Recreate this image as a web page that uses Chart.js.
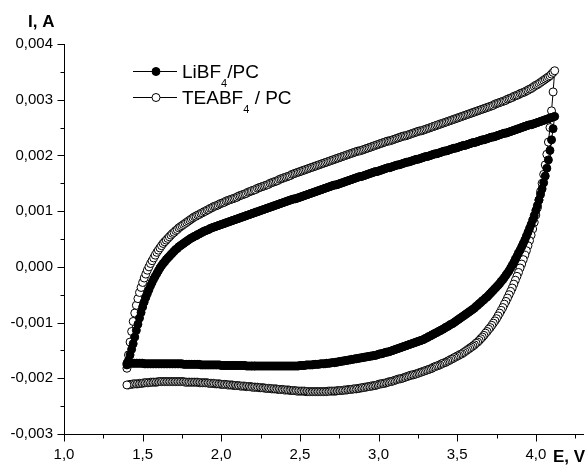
<!DOCTYPE html>
<html>
<head>
<meta charset="utf-8">
<script src="https://cdn.jsdelivr.net/npm/chart.js@4/dist/chart.umd.min.js"></script>
<style>
html, body { margin: 0; padding: 0; background: #fff; }
#wrap { width: 588px; height: 466px; position: relative; }
</style>
</head>
<body>
<div id="wrap"><canvas id="cv"></canvas></div>
<script>
// Cyclic voltammograms, E in V, I in A -----------------------------------------------------------
const ePotentialFwd = [
  1.40,1.41,1.42,1.43,1.44,1.45,1.46,1.47,1.48,1.49,
  1.50,1.51,1.52,1.53,1.54,1.55,1.56,1.57,1.58,1.59,
  1.60,1.61,1.62,1.63,1.64,1.65,1.66,1.67,1.68,1.69,
  1.70,1.71,1.72,1.73,1.74,1.75,1.76,1.77,1.78,1.79,
  1.80,1.81,1.82,1.83,1.84,1.85,1.86,1.87,1.88,1.89,
  1.90,1.91,1.92,1.93,1.94,1.95,1.96,1.97,1.98,1.99,
  2.00,2.01,2.02,2.03,2.04,2.05,2.06,2.07,2.08,2.09,
  2.10,2.11,2.12,2.13,2.14,2.15,2.16,2.17,2.18,2.19,
  2.20,2.21,2.22,2.23,2.24,2.25,2.26,2.27,2.28,2.29,
  2.30,2.31,2.32,2.33,2.34,2.35,2.36,2.37,2.38,2.39,
  2.40,2.41,2.42,2.43,2.44,2.45,2.46,2.47,2.48,2.49,
  2.50,2.51,2.52,2.53,2.54,2.55,2.56,2.57,2.58,2.59,
  2.60,2.61,2.62,2.63,2.64,2.65,2.66,2.67,2.68,2.69,
  2.70,2.71,2.72,2.73,2.74,2.75,2.76,2.77,2.78,2.79,
  2.80,2.81,2.82,2.83,2.84,2.85,2.86,2.87,2.88,2.89,
  2.90,2.91,2.92,2.93,2.94,2.95,2.96,2.97,2.98,2.99,
  3.00,3.01,3.02,3.03,3.04,3.05,3.06,3.07,3.08,3.09,
  3.10,3.11,3.12,3.13,3.14,3.15,3.16,3.17,3.18,3.19,
  3.20,3.21,3.22,3.23,3.24,3.25,3.26,3.27,3.28,3.29,
  3.30,3.31,3.32,3.33,3.34,3.35,3.36,3.37,3.38,3.39,
  3.40,3.41,3.42,3.43,3.44,3.45,3.46,3.47,3.48,3.49,
  3.50,3.51,3.52,3.53,3.54,3.55,3.56,3.57,3.58,3.59,
  3.60,3.61,3.62,3.63,3.64,3.65,3.66,3.67,3.68,3.69,
  3.70,3.71,3.72,3.73,3.74,3.75,3.76,3.77,3.78,3.79,
  3.80,3.81,3.82,3.83,3.84,3.85,3.86,3.87,3.88,3.89,
  3.90,3.91,3.92,3.93,3.94,3.95,3.96,3.97,3.98,3.99,
  4.00,4.01,4.02,4.03,4.04,4.05,4.06,4.07,4.08,4.09,
  4.10,4.11,4.12
];
const ePotentialRev = [
  4.11,4.10,
  4.09,4.08,4.07,4.06,4.05,4.04,4.03,4.02,4.01,4.00,
  3.99,3.98,3.97,3.96,3.95,3.94,3.93,3.92,3.91,3.90,
  3.89,3.88,3.87,3.86,3.85,3.84,3.83,3.82,3.81,3.80,
  3.79,3.78,3.77,3.76,3.75,3.74,3.73,3.72,3.71,3.70,
  3.69,3.68,3.67,3.66,3.65,3.64,3.63,3.62,3.61,3.60,
  3.59,3.58,3.57,3.56,3.55,3.54,3.53,3.52,3.51,3.50,
  3.49,3.48,3.47,3.46,3.45,3.44,3.43,3.42,3.41,3.40,
  3.39,3.38,3.37,3.36,3.35,3.34,3.33,3.32,3.31,3.30,
  3.29,3.28,3.27,3.26,3.25,3.24,3.23,3.22,3.21,3.20,
  3.19,3.18,3.17,3.16,3.15,3.14,3.13,3.12,3.11,3.10,
  3.09,3.08,3.07,3.06,3.05,3.04,3.03,3.02,3.01,3.00,
  2.99,2.98,2.97,2.96,2.95,2.94,2.93,2.92,2.91,2.90,
  2.89,2.88,2.87,2.86,2.85,2.84,2.83,2.82,2.81,2.80,
  2.79,2.78,2.77,2.76,2.75,2.74,2.73,2.72,2.71,2.70,
  2.69,2.68,2.67,2.66,2.65,2.64,2.63,2.62,2.61,2.60,
  2.59,2.58,2.57,2.56,2.55,2.54,2.53,2.52,2.51,2.50,
  2.49,2.48,2.47,2.46,2.45,2.44,2.43,2.42,2.41,2.40,
  2.39,2.38,2.37,2.36,2.35,2.34,2.33,2.32,2.31,2.30,
  2.29,2.28,2.27,2.26,2.25,2.24,2.23,2.22,2.21,2.20,
  2.19,2.18,2.17,2.16,2.15,2.14,2.13,2.12,2.11,2.10,
  2.09,2.08,2.07,2.06,2.05,2.04,2.03,2.02,2.01,2.00,
  1.99,1.98,1.97,1.96,1.95,1.94,1.93,1.92,1.91,1.90,
  1.89,1.88,1.87,1.86,1.85,1.84,1.83,1.82,1.81,1.80,
  1.79,1.78,1.77,1.76,1.75,1.74,1.73,1.72,1.71,1.70,
  1.69,1.68,1.67,1.66,1.65,1.64,1.63,1.62,1.61,1.60,
  1.59,1.58,1.57,1.56,1.55,1.54,1.53,1.52,1.51,1.50,
  1.49,1.48,1.47,1.46,1.45,1.44,1.43,1.42,1.41,1.40
];

// LiBF4/PC, forward and reverse sweep
const currentLiFwd = [
  -0.00176,-0.00168,-0.00158,-0.00148,-0.00138,-0.00126,-0.00114,-0.00103,-0.00092,-0.00082,
  -0.00072,-0.00063,-0.00055,-0.00048,-0.00041,-0.00034,-0.00028,-0.00022,-0.00017,-0.00012,
  -0.00007,-0.00002,0.00002,0.00006,0.00009,0.00013,0.00016,0.00019,0.00022,0.00025,
  0.00028,0.00031,0.00033,0.00036,0.00038,0.00040,0.00042,0.00044,0.00046,0.00048,
  0.00050,0.00052,0.00053,0.00055,0.00056,0.00058,0.00059,0.00061,0.00062,0.00064,
  0.00065,0.00066,0.00067,0.00069,0.00070,0.00071,0.00072,0.00073,0.00074,0.00075,
  0.00076,0.00077,0.00078,0.00079,0.00080,0.00081,0.00082,0.00083,0.00084,0.00085,
  0.00086,0.00087,0.00088,0.00089,0.00090,0.00091,0.00092,0.00093,0.00094,0.00095,
  0.00096,0.00097,0.00098,0.00099,0.00100,0.00101,0.00102,0.00103,0.00104,0.00105,
  0.00106,0.00107,0.00108,0.00109,0.00110,0.00111,0.00112,0.00113,0.00114,0.00115,
  0.00116,0.00117,0.00118,0.00119,0.00120,0.00121,0.00122,0.00122,0.00123,0.00124,
  0.00125,0.00126,0.00127,0.00128,0.00129,0.00130,0.00131,0.00132,0.00133,0.00134,
  0.00135,0.00136,0.00137,0.00138,0.00139,0.00140,0.00141,0.00142,0.00143,0.00144,
  0.00145,0.00146,0.00147,0.00147,0.00148,0.00149,0.00150,0.00151,0.00152,0.00153,
  0.00154,0.00155,0.00156,0.00157,0.00158,0.00159,0.00160,0.00161,0.00162,0.00162,
  0.00163,0.00164,0.00165,0.00166,0.00167,0.00168,0.00169,0.00170,0.00171,0.00171,
  0.00172,0.00173,0.00174,0.00175,0.00176,0.00177,0.00178,0.00178,0.00179,0.00180,
  0.00181,0.00182,0.00183,0.00183,0.00184,0.00185,0.00186,0.00187,0.00188,0.00188,
  0.00189,0.00190,0.00191,0.00192,0.00193,0.00193,0.00194,0.00195,0.00196,0.00197,
  0.00198,0.00198,0.00199,0.00200,0.00201,0.00202,0.00203,0.00203,0.00204,0.00205,
  0.00206,0.00207,0.00208,0.00208,0.00209,0.00210,0.00211,0.00212,0.00213,0.00213,
  0.00214,0.00215,0.00216,0.00217,0.00218,0.00218,0.00219,0.00220,0.00221,0.00222,
  0.00223,0.00223,0.00224,0.00225,0.00226,0.00227,0.00228,0.00228,0.00229,0.00230,
  0.00231,0.00232,0.00233,0.00233,0.00234,0.00235,0.00236,0.00237,0.00238,0.00239,
  0.00240,0.00240,0.00241,0.00242,0.00243,0.00244,0.00245,0.00246,0.00247,0.00248,
  0.00249,0.00250,0.00251,0.00252,0.00253,0.00254,0.00255,0.00255,0.00256,0.00257,
  0.00258,0.00259,0.00260,0.00261,0.00262,0.00263,0.00264,0.00265,0.00266,0.00267,
  0.00268,0.00269,0.00270
];
const currentLiRev = [
  0.00248,0.00228,
  0.00209,0.00192,0.00177,0.00163,0.00151,0.00140,0.00130,0.00120,0.00110,0.00101,
  0.00092,0.00084,0.00076,0.00069,0.00062,0.00055,0.00048,0.00042,0.00036,0.00030,
  0.00025,0.00019,0.00014,0.00008,0.00003,-0.00002,-0.00007,-0.00011,-0.00015,-0.00019,
  -0.00023,-0.00026,-0.00030,-0.00033,-0.00036,-0.00039,-0.00042,-0.00045,-0.00048,-0.00051,
  -0.00054,-0.00056,-0.00059,-0.00061,-0.00064,-0.00066,-0.00069,-0.00071,-0.00074,-0.00076,
  -0.00078,-0.00080,-0.00082,-0.00084,-0.00086,-0.00088,-0.00090,-0.00092,-0.00094,-0.00096,
  -0.00098,-0.00100,-0.00102,-0.00103,-0.00105,-0.00107,-0.00108,-0.00110,-0.00112,-0.00113,
  -0.00115,-0.00116,-0.00118,-0.00119,-0.00121,-0.00122,-0.00124,-0.00125,-0.00127,-0.00128,
  -0.00130,-0.00131,-0.00132,-0.00133,-0.00134,-0.00135,-0.00136,-0.00137,-0.00138,-0.00139,
  -0.00140,-0.00141,-0.00142,-0.00143,-0.00144,-0.00145,-0.00146,-0.00147,-0.00148,-0.00149,
  -0.00150,-0.00151,-0.00152,-0.00153,-0.00153,-0.00154,-0.00155,-0.00156,-0.00156,-0.00157,
  -0.00158,-0.00159,-0.00159,-0.00160,-0.00160,-0.00161,-0.00161,-0.00162,-0.00162,-0.00163,
  -0.00163,-0.00164,-0.00164,-0.00165,-0.00165,-0.00166,-0.00166,-0.00167,-0.00167,-0.00168,
  -0.00168,-0.00169,-0.00169,-0.00170,-0.00170,-0.00171,-0.00171,-0.00172,-0.00172,-0.00172,
  -0.00173,-0.00173,-0.00173,-0.00174,-0.00174,-0.00174,-0.00174,-0.00175,-0.00175,-0.00175,
  -0.00175,-0.00176,-0.00176,-0.00176,-0.00176,-0.00176,-0.00177,-0.00177,-0.00177,-0.00177,
  -0.00178,-0.00178,-0.00178,-0.00178,-0.00178,-0.00178,-0.00178,-0.00178,-0.00178,-0.00178,
  -0.00178,-0.00178,-0.00178,-0.00178,-0.00178,-0.00178,-0.00178,-0.00178,-0.00178,-0.00178,
  -0.00178,-0.00178,-0.00178,-0.00178,-0.00178,-0.00178,-0.00178,-0.00178,-0.00178,-0.00178,
  -0.00178,-0.00178,-0.00178,-0.00178,-0.00177,-0.00177,-0.00177,-0.00177,-0.00177,-0.00177,
  -0.00177,-0.00177,-0.00177,-0.00177,-0.00177,-0.00177,-0.00177,-0.00177,-0.00177,-0.00177,
  -0.00176,-0.00176,-0.00176,-0.00176,-0.00176,-0.00176,-0.00176,-0.00176,-0.00176,-0.00176,
  -0.00176,-0.00176,-0.00176,-0.00175,-0.00175,-0.00175,-0.00175,-0.00175,-0.00175,-0.00175,
  -0.00175,-0.00175,-0.00175,-0.00175,-0.00174,-0.00174,-0.00174,-0.00174,-0.00174,-0.00174,
  -0.00174,-0.00174,-0.00174,-0.00174,-0.00174,-0.00174,-0.00174,-0.00174,-0.00174,-0.00174,
  -0.00174,-0.00174,-0.00174,-0.00174,-0.00174,-0.00174,-0.00174,-0.00174,-0.00174,-0.00173,
  -0.00173,-0.00173,-0.00173,-0.00173,-0.00173,-0.00173,-0.00173,-0.00173,-0.00173,-0.00173
];

// TEABF4 / PC, forward and reverse sweep
const currentTeaFwd = [
  -0.00182,-0.00158,-0.00135,-0.00116,-0.00098,-0.00083,-0.00069,-0.00057,-0.00046,-0.00037,
  -0.00028,-0.00020,-0.00013,-0.00006,0.00000,0.00006,0.00011,0.00016,0.00021,0.00026,
  0.00030,0.00034,0.00038,0.00042,0.00045,0.00048,0.00051,0.00054,0.00057,0.00060,
  0.00062,0.00065,0.00067,0.00070,0.00072,0.00074,0.00076,0.00078,0.00080,0.00082,
  0.00084,0.00086,0.00088,0.00090,0.00091,0.00093,0.00094,0.00096,0.00097,0.00099,
  0.00100,0.00102,0.00103,0.00105,0.00106,0.00108,0.00109,0.00110,0.00111,0.00113,
  0.00114,0.00115,0.00116,0.00118,0.00119,0.00120,0.00121,0.00122,0.00123,0.00124,
  0.00125,0.00127,0.00128,0.00129,0.00130,0.00131,0.00132,0.00134,0.00135,0.00136,
  0.00137,0.00138,0.00139,0.00141,0.00142,0.00143,0.00144,0.00145,0.00146,0.00147,
  0.00148,0.00150,0.00151,0.00152,0.00153,0.00154,0.00155,0.00157,0.00158,0.00159,
  0.00160,0.00161,0.00162,0.00163,0.00164,0.00166,0.00167,0.00168,0.00169,0.00170,
  0.00171,0.00172,0.00173,0.00174,0.00175,0.00176,0.00177,0.00178,0.00179,0.00180,
  0.00181,0.00182,0.00183,0.00184,0.00185,0.00186,0.00187,0.00188,0.00189,0.00190,
  0.00191,0.00192,0.00193,0.00194,0.00195,0.00196,0.00197,0.00198,0.00199,0.00200,
  0.00201,0.00202,0.00203,0.00204,0.00205,0.00206,0.00207,0.00208,0.00208,0.00209,
  0.00210,0.00211,0.00212,0.00213,0.00214,0.00215,0.00216,0.00217,0.00218,0.00219,
  0.00220,0.00221,0.00222,0.00223,0.00224,0.00225,0.00226,0.00226,0.00227,0.00228,
  0.00229,0.00230,0.00231,0.00232,0.00233,0.00234,0.00235,0.00235,0.00236,0.00237,
  0.00238,0.00239,0.00240,0.00241,0.00242,0.00243,0.00244,0.00244,0.00245,0.00246,
  0.00247,0.00248,0.00249,0.00250,0.00251,0.00252,0.00253,0.00254,0.00255,0.00256,
  0.00257,0.00258,0.00259,0.00260,0.00261,0.00262,0.00263,0.00264,0.00265,0.00266,
  0.00267,0.00268,0.00269,0.00270,0.00271,0.00272,0.00273,0.00274,0.00275,0.00276,
  0.00277,0.00278,0.00279,0.00280,0.00281,0.00282,0.00283,0.00284,0.00285,0.00286,
  0.00287,0.00288,0.00289,0.00290,0.00292,0.00293,0.00294,0.00295,0.00296,0.00297,
  0.00298,0.00299,0.00301,0.00302,0.00303,0.00304,0.00306,0.00307,0.00308,0.00309,
  0.00311,0.00312,0.00313,0.00314,0.00316,0.00317,0.00319,0.00320,0.00322,0.00324,
  0.00326,0.00327,0.00329,0.00331,0.00333,0.00335,0.00337,0.00339,0.00341,0.00343,
  0.00346,0.00349,0.00352
];
const currentTeaRev = [
  0.00314,0.00280,
  0.00250,0.00224,0.00202,0.00183,0.00166,0.00150,0.00135,0.00120,0.00106,0.00093,
  0.00080,0.00068,0.00057,0.00047,0.00038,0.00029,0.00021,0.00013,0.00005,-0.00002,
  -0.00010,-0.00017,-0.00024,-0.00031,-0.00038,-0.00044,-0.00050,-0.00056,-0.00062,-0.00067,
  -0.00073,-0.00078,-0.00083,-0.00088,-0.00093,-0.00097,-0.00101,-0.00105,-0.00109,-0.00112,
  -0.00116,-0.00119,-0.00123,-0.00126,-0.00129,-0.00132,-0.00135,-0.00137,-0.00140,-0.00142,
  -0.00144,-0.00146,-0.00148,-0.00150,-0.00152,-0.00154,-0.00156,-0.00157,-0.00159,-0.00160,
  -0.00162,-0.00163,-0.00165,-0.00166,-0.00168,-0.00169,-0.00171,-0.00172,-0.00173,-0.00174,
  -0.00176,-0.00177,-0.00178,-0.00179,-0.00180,-0.00182,-0.00183,-0.00184,-0.00185,-0.00186,
  -0.00187,-0.00188,-0.00189,-0.00190,-0.00191,-0.00192,-0.00193,-0.00194,-0.00194,-0.00195,
  -0.00196,-0.00197,-0.00198,-0.00199,-0.00200,-0.00201,-0.00201,-0.00202,-0.00203,-0.00204,
  -0.00205,-0.00206,-0.00206,-0.00207,-0.00208,-0.00209,-0.00209,-0.00210,-0.00210,-0.00211,
  -0.00212,-0.00213,-0.00213,-0.00214,-0.00214,-0.00215,-0.00215,-0.00216,-0.00216,-0.00217,
  -0.00217,-0.00218,-0.00218,-0.00219,-0.00219,-0.00219,-0.00220,-0.00220,-0.00220,-0.00221,
  -0.00221,-0.00221,-0.00222,-0.00222,-0.00222,-0.00222,-0.00223,-0.00223,-0.00223,-0.00223,
  -0.00223,-0.00223,-0.00224,-0.00224,-0.00224,-0.00224,-0.00224,-0.00224,-0.00224,-0.00224,
  -0.00224,-0.00224,-0.00224,-0.00224,-0.00224,-0.00224,-0.00223,-0.00223,-0.00223,-0.00223,
  -0.00223,-0.00223,-0.00222,-0.00222,-0.00222,-0.00222,-0.00221,-0.00221,-0.00221,-0.00221,
  -0.00220,-0.00220,-0.00220,-0.00220,-0.00219,-0.00219,-0.00219,-0.00219,-0.00218,-0.00218,
  -0.00218,-0.00218,-0.00217,-0.00217,-0.00217,-0.00217,-0.00216,-0.00216,-0.00216,-0.00216,
  -0.00215,-0.00215,-0.00215,-0.00215,-0.00214,-0.00214,-0.00214,-0.00214,-0.00213,-0.00213,
  -0.00213,-0.00213,-0.00212,-0.00212,-0.00212,-0.00212,-0.00211,-0.00211,-0.00211,-0.00211,
  -0.00210,-0.00210,-0.00210,-0.00210,-0.00209,-0.00209,-0.00209,-0.00209,-0.00208,-0.00208,
  -0.00208,-0.00208,-0.00208,-0.00208,-0.00207,-0.00207,-0.00207,-0.00207,-0.00207,-0.00207,
  -0.00207,-0.00207,-0.00207,-0.00206,-0.00206,-0.00206,-0.00206,-0.00206,-0.00206,-0.00206,
  -0.00206,-0.00206,-0.00206,-0.00206,-0.00206,-0.00206,-0.00206,-0.00206,-0.00206,-0.00206,
  -0.00207,-0.00207,-0.00207,-0.00207,-0.00207,-0.00208,-0.00208,-0.00208,-0.00208,-0.00209,
  -0.00209,-0.00209,-0.00210,-0.00210,-0.00210,-0.00210,-0.00211,-0.00211,-0.00212,-0.00212
];

// legend text split as [main, subscript, rest]
const legendLabels = [['LiBF', '4', '/PC'], ['TEABF', '4', ' / PC']];
const axisTitleY = 'I, A';
const axisTitleX = 'E, V';
// -------------------------------------------------------------------------------------------------

if (currentLiFwd.length !== ePotentialFwd.length || currentTeaFwd.length !== ePotentialFwd.length ||
    currentLiRev.length !== ePotentialRev.length || currentTeaRev.length !== ePotentialRev.length) {
  throw new Error('length mismatch ' + [ePotentialFwd.length, currentLiFwd.length, currentTeaFwd.length,
    ePotentialRev.length, currentLiRev.length, currentTeaRev.length]);
}

const fam = "'Liberation Sans', Arial, sans-serif";
Chart.defaults.font.family = fam;
Chart.defaults.color = '#000';

function toPoints(eList, iList) {
  return eList.map((e, k) => ({ x: e, y: iList[k] }));
}
function isMajor(v, step) {
  const r = v / step;
  return Math.abs(r - Math.round(r)) < 1e-6;
}
function commaFixed(v, d) {
  return v.toFixed(d).replace('.', ',');
}

// tick marks: long on labelled values, short in between
const tickMarks = {
  id: 'tickMarks',
  afterDraw(chart) {
    const { ctx, chartArea, scales: { x, y } } = chart;
    const left = Math.round(chartArea.left) + 0.5;
    const bottom = Math.round(chartArea.bottom) + 0.5;
    ctx.save();
    ctx.strokeStyle = '#000';
    ctx.lineWidth = 1;
    ctx.beginPath();
    x.ticks.forEach(t => {
      const px = Math.round(x.getPixelForValue(t.value)) + 0.5;
      ctx.moveTo(px, bottom);
      ctx.lineTo(px, bottom + (isMajor(t.value, 0.5) ? 7 : 4));
    });
    y.ticks.forEach(t => {
      const py = Math.round(y.getPixelForValue(t.value)) + 0.5;
      ctx.moveTo(left, py);
      ctx.lineTo(left - (isMajor(t.value, 0.001) ? 7 : 4), py);
    });
    ctx.stroke();
    ctx.restore();
  }
};

// axis titles at the axis ends
const axisTitles = {
  id: 'axisTitles',
  afterDraw(chart) {
    const ctx = chart.ctx;
    ctx.save();
    ctx.fillStyle = '#000';
    ctx.font = 'bold 17px ' + fam;
    ctx.textAlign = 'left';
    ctx.textBaseline = 'alphabetic';
    ctx.fillText(axisTitleY, 28, 27);
    ctx.fillText(axisTitleX, 553, 462);
    ctx.restore();
  }
};

// legend with subscripts
const subLegend = {
  id: 'subLegend',
  afterDraw(chart) {
    const ctx = chart.ctx;
    ctx.save();
    legendLabels.forEach((parts, i) => {
      const ds = chart.data.datasets[i];
      const y = 71.5 + i * 26;
      ctx.strokeStyle = '#000';
      ctx.lineWidth = 1;
      ctx.beginPath();
      ctx.moveTo(133, y);
      ctx.lineTo(177, y);
      ctx.stroke();
      ctx.beginPath();
      ctx.arc(156, y, 4, 0, Math.PI * 2);
      ctx.fillStyle = ds.pointBackgroundColor;
      ctx.fill();
      ctx.stroke();

      const base = y + 6.8;
      let x = 182;
      ctx.fillStyle = '#000';
      ctx.textAlign = 'left';
      ctx.textBaseline = 'alphabetic';
      ctx.font = '19px ' + fam;
      ctx.fillText(parts[0], x, base);
      x += ctx.measureText(parts[0]).width;
      ctx.font = '11px ' + fam;
      ctx.fillText(parts[1], x, base + 9);
      x += ctx.measureText(parts[1]).width;
      ctx.font = '19px ' + fam;
      ctx.fillText(parts[2], x, base);
    });
    ctx.restore();
  }
};

const datasetLi = {
  label: 'LiBF4/PC',
  data: toPoints(ePotentialFwd, currentLiFwd).concat(toPoints(ePotentialRev, currentLiRev)),
  showLine: true,
  borderColor: '#000',
  borderWidth: 1,
  pointRadius: 4,
  pointBorderWidth: 1,
  pointBorderColor: '#000',
  pointBackgroundColor: '#000'
};
const datasetTea = {
  label: 'TEABF4 / PC',
  data: toPoints(ePotentialFwd, currentTeaFwd).concat(toPoints(ePotentialRev, currentTeaRev)),
  showLine: true,
  borderColor: '#000',
  borderWidth: 1,
  pointRadius: 4,
  pointBorderWidth: 1,
  pointBorderColor: '#000',
  pointBackgroundColor: '#fff'
};

const cvChart = new Chart(document.getElementById('cv'), {
  type: 'scatter',
  data: { datasets: [datasetLi, datasetTea] },
  options: {
    responsive: true,
    maintainAspectRatio: false,
    animation: false,
    layout: { padding: { top: 44, right: 5, left: 0, bottom: 0 } },
    plugins: { legend: { display: false }, tooltip: { enabled: false } },
    scales: {
      x: {
        type: 'linear',
        min: 1,
        max: 4.3,
        afterFit: s => { s.height = 32; },
        grid: { display: false, drawTicks: false },
        border: { display: true, color: '#000', width: 1 },
        ticks: {
          stepSize: 0.25,
          includeBounds: false,
          autoSkip: false,
          maxRotation: 0,
          padding: 12,
          color: '#000',
          font: { size: 15 },
          callback: v => isMajor(v, 0.5) ? commaFixed(v, 1) : ''
        }
      },
      y: {
        type: 'linear',
        min: -0.003,
        max: 0.004,
        afterFit: s => { s.width = 64; },
        grid: { display: false, drawTicks: false },
        border: { display: true, color: '#000', width: 1 },
        ticks: {
          stepSize: 0.0005,
          autoSkip: false,
          padding: 11,
          color: '#000',
          font: { size: 15 },
          callback: v => isMajor(v, 0.001) ? commaFixed(v, 3) : ''
        }
      }
    }
  },
  plugins: [tickMarks, axisTitles, subLegend]
});
</script>
</body>
</html>
